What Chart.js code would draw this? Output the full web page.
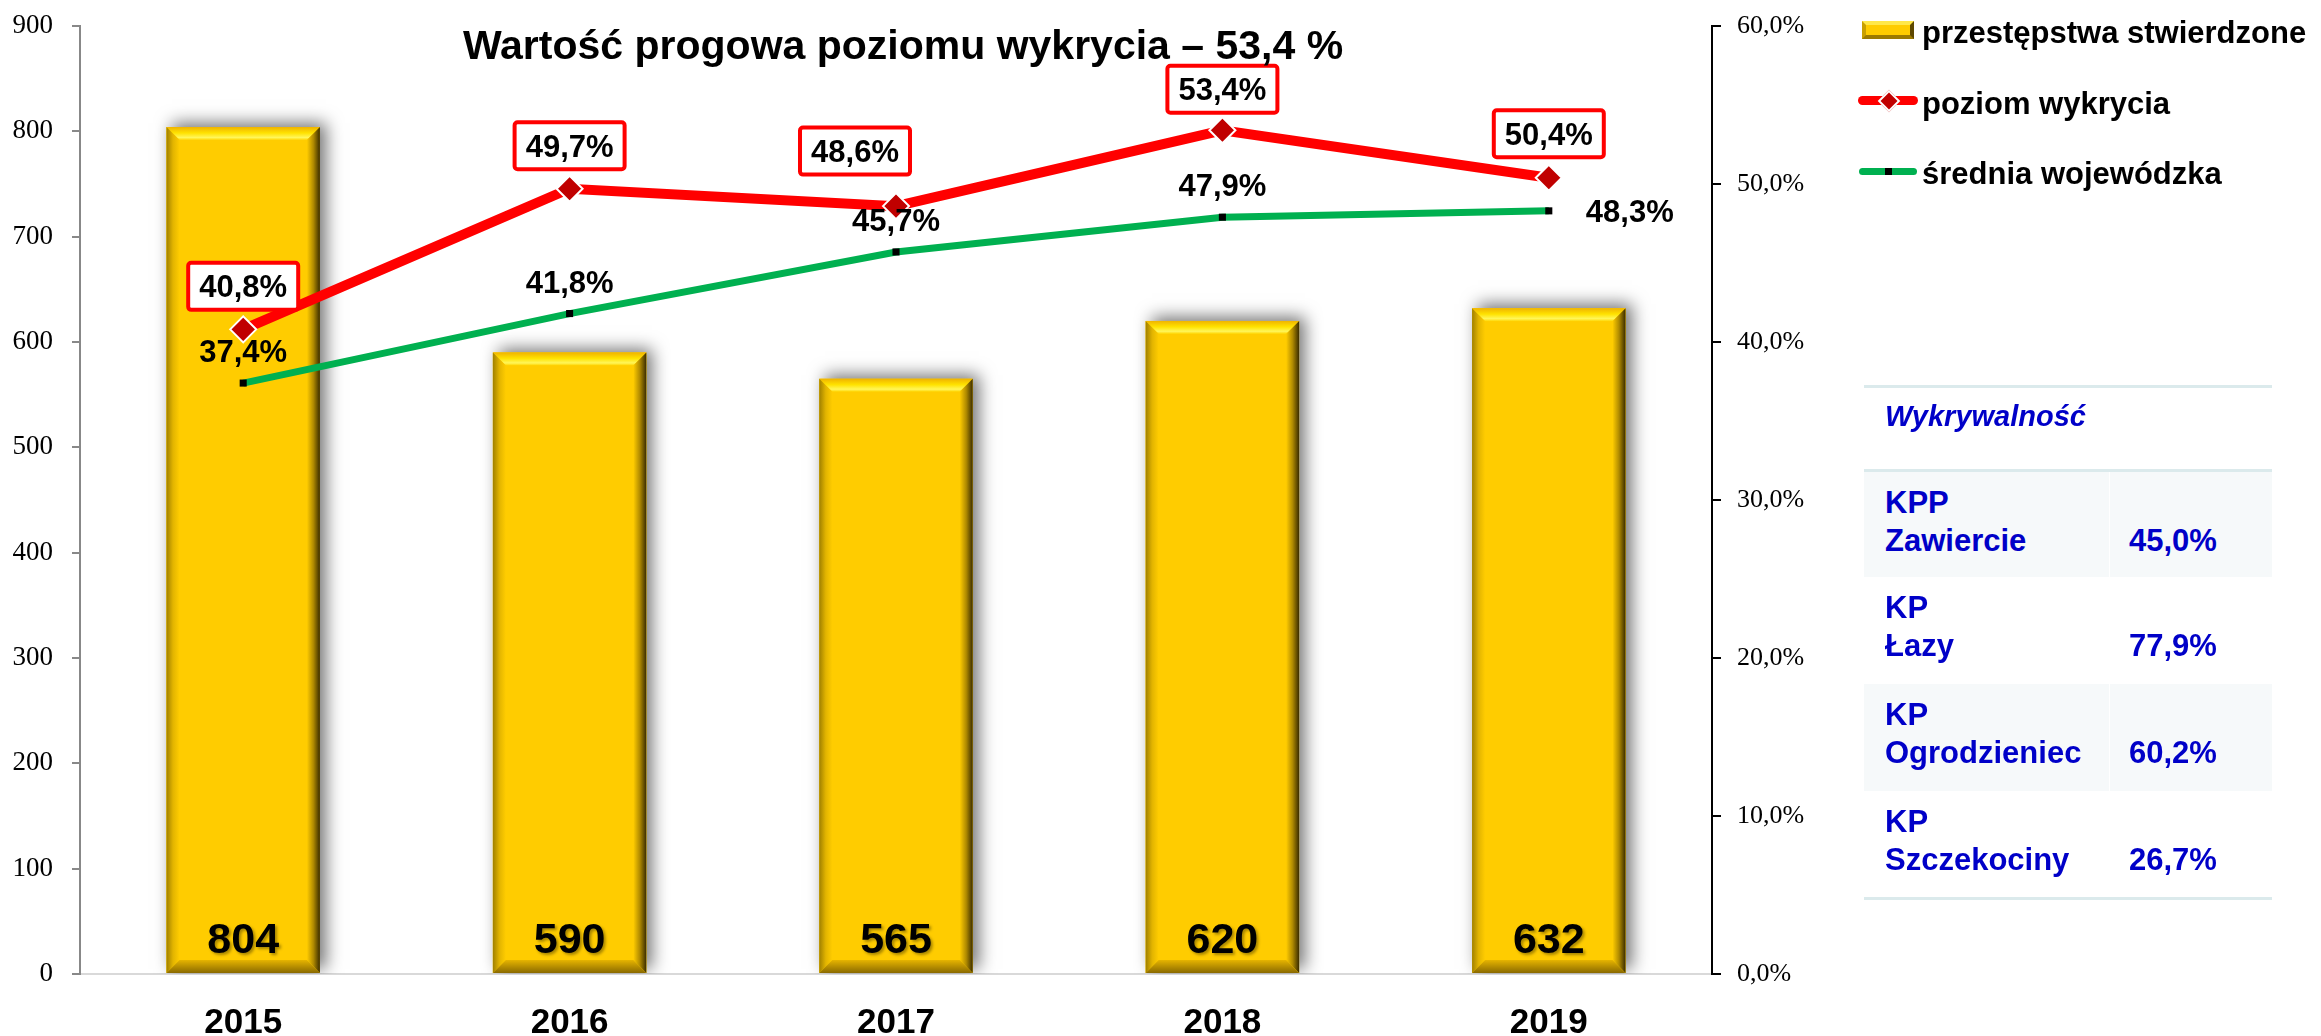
<!DOCTYPE html>
<html>
<head>
<meta charset="utf-8">
<script src="https://cdn.jsdelivr.net/npm/chart.js@4.4.1/dist/chart.umd.min.js"></script>
<style>
    body { margin: 0; background: #fff; overflow: hidden; font-family: "Liberation Sans", Arial, sans-serif; }
    #wrap { position: relative; width: 2321px; height: 1036px; }
    #chartBox { position: absolute; left: 0; top: 0; width: 2321px; height: 1036px; }
    .leg { position: absolute; left: 1922px; height: 40px; line-height: 40px; font-size: 31px; font-weight: bold; color: #000; white-space: nowrap; }
    .mk { position: absolute; }
    #table { position: absolute; left: 1864px; top: 385px; width: 408px; color: #0000c8; }
    .hline { position: absolute; left: 0; width: 408px; height: 3px; background: #dbeaec; }
    .row { position: absolute; left: 0; width: 408px; font-size: 31px; font-weight: bold; line-height: 38px; }
    .row .name { position: absolute; left: 21px; top: 12px; }
    .row .val { position: absolute; left: 265px; top: 50px; }
    .row.shade { background: #f6f9fa; }
    .row.shade .sep { position: absolute; left: 245px; top: 0; bottom: 0; width: 1px; background: #ffffff; }
    .head { position: absolute; left: 21px; top: 12px; font-size: 29px; font-weight: bold; font-style: italic; line-height: 38px; }
</style>
</head>
<body>
<div id="wrap">
    <div id="chartBox"><canvas id="myChart"></canvas></div>

    <div class="mk" style="left:1862px; top:21px; width:44px; height:10px; box-sizing:content-box; background:#ffcc00;
        border-top:4px solid #ffe84a; border-left:4px solid #c9a000; border-right:4px solid #5e4800; border-bottom:4px solid #9c7a00;"></div>
    <div class="leg" style="top:13px;">przestępstwa stwierdzone</div>

    <div class="mk" style="left:1858px; top:96px; width:60px; height:9px; border-radius:5px; background:#ff0000;"></div>
    <div class="mk" style="left:1881px; top:93px; width:12px; height:12px; background:#c00000; border:2px solid #fff; transform:rotate(45deg);"></div>
    <div class="leg" style="top:84px;">poziom wykrycia</div>

    <div class="mk" style="left:1859px; top:168px; width:58px; height:7px; border-radius:4px; background:#00b050;"></div>
    <div class="mk" style="left:1885px; top:168px; width:7px; height:7px; background:#000;"></div>
    <div class="leg" style="top:154px;">średnia wojewódzka</div>

    <div id="table"></div>
</div>

<script>
const YEARS = ["2015", "2016", "2017", "2018", "2019"];
const CRIMES = [804, 590, 565, 620, 632];
const DETECTION = [40.8, 49.7, 48.6, 53.4, 50.4];
const PROVINCE_AVG = [37.4, 41.8, 45.7, 47.9, 48.3];

const LEFT_TICKS = { min: 0, max: 900, step: 100 };
const RIGHT_TICKS = { min: 0, max: 60, step: 10 };

const TITLE = "Wartość progowa poziomu wykrycia – 53,4 %";

const TABLE_HEAD = "Wykrywalność";
const UNIT_TYPES = ["KPP", "KP", "KP", "KP"];
const UNIT_NAMES = ["Zawiercie", "Łazy", "Ogrodzieniec", "Szczekociny"];
const UNIT_RATES = [45.0, 77.9, 60.2, 26.7];

function pct(v) {
    return v.toFixed(1).replace(".", ",") + "%";
}

// build the small table on the right
(function buildTable() {
    const t = document.getElementById("table");
    let html = '<div class="hline" style="top:0"></div>';
    html += '<div class="head">' + TABLE_HEAD + '</div>';
    html += '<div class="hline" style="top:84px"></div>';
    const rowTops = [87, 192, 299, 406];
    const rowH = [105, 107, 107, 105];
    UNIT_NAMES.forEach((name, i) => {
        html += '<div class="row' + (i % 2 === 0 ? ' shade' : '') + '" style="top:' + rowTops[i] + 'px;height:' + rowH[i] + 'px">' +
            '<div class="sep"></div>' +
            '<div class="name">' + UNIT_TYPES[i] + '<br>' + name + '</div>' +
            '<div class="val">' + pct(UNIT_RATES[i]) + '</div></div>';
    });
    html += '<div class="hline" style="top:512px"></div>';
    t.innerHTML = html;
})();

const FONT = '"Liberation Sans", Arial, sans-serif';
const SERIF = '"Liberation Serif", "Times New Roman", serif';

// where each percentage label sits relative to its point
const RED_LABEL_SHIFT = [[0, -43], [0, -43], [-41, -55], [0, -41], [0, -44]];
const GREEN_LABEL_SHIFT = [[0, -32], [0, -32], [0, -32], [0, -32], [81, 0]];

// gold bars with bevel and soft shadow
const bevelPlugin = {
    id: "bevel",
    beforeDatasetDraw(chart, args) {
        if (args.index !== 0) return;
        const ctx = chart.ctx;
        const area = chart.chartArea;
        ctx.save();
        ctx.beginPath();
        ctx.rect(area.left, area.top - 60, area.right - area.left, area.bottom - area.top + 60);
        ctx.clip();
        args.meta.data.forEach((bar) => {
            const p = bar.getProps(["x", "y", "base", "width"], true);
            ctx.shadowColor = "rgba(0,0,0,0.55)";
            ctx.shadowBlur = 16;
            ctx.shadowOffsetX = 6;
            ctx.shadowOffsetY = -4;
            ctx.fillStyle = "#ffcc00";
            ctx.fillRect(p.x - p.width / 2, p.y, p.width, p.base - p.y);
        });
        ctx.restore();
    },
    afterDatasetDraw(chart, args) {
        if (args.index !== 0) return;
        const ctx = chart.ctx;
        const b = 13;
        ctx.save();
        args.meta.data.forEach((bar) => {
            const p = bar.getProps(["x", "y", "base", "width"], true);
            const L = p.x - p.width / 2, R = p.x + p.width / 2, T = p.y, B = p.base;
            let g;

            g = ctx.createLinearGradient(0, T, 0, T + b);
            g.addColorStop(0, "#f0b400");
            g.addColorStop(0.45, "#ffe200");
            g.addColorStop(0.8, "#fff65a");
            g.addColorStop(1, "#ffd400");
            ctx.fillStyle = g;
            ctx.beginPath();
            ctx.moveTo(L, T); ctx.lineTo(R, T); ctx.lineTo(R - b, T + b); ctx.lineTo(L + b, T + b);
            ctx.closePath(); ctx.fill();

            g = ctx.createLinearGradient(L, 0, L + b, 0);
            g.addColorStop(0, "#a08000");
            g.addColorStop(0.5, "#e2b400");
            g.addColorStop(1, "#ffcc00");
            ctx.fillStyle = g;
            ctx.beginPath();
            ctx.moveTo(L, T); ctx.lineTo(L + b, T + b); ctx.lineTo(L + b, B - b); ctx.lineTo(L, B);
            ctx.closePath(); ctx.fill();

            g = ctx.createLinearGradient(R - b, 0, R, 0);
            g.addColorStop(0, "#ffcc00");
            g.addColorStop(0.5, "#b08a00");
            g.addColorStop(1, "#3a2c00");
            ctx.fillStyle = g;
            ctx.beginPath();
            ctx.moveTo(R, T); ctx.lineTo(R, B); ctx.lineTo(R - b, B - b); ctx.lineTo(R - b, T + b);
            ctx.closePath(); ctx.fill();

            g = ctx.createLinearGradient(0, B - b, 0, B);
            g.addColorStop(0, "#e6b400");
            g.addColorStop(1, "#8a6a00");
            ctx.fillStyle = g;
            ctx.beginPath();
            ctx.moveTo(L, B); ctx.lineTo(R, B); ctx.lineTo(R - b, B - b); ctx.lineTo(L + b, B - b);
            ctx.closePath(); ctx.fill();
        });
        ctx.restore();
    }
};

function roundRect(ctx, x, y, w, h, r) {
    ctx.beginPath();
    ctx.moveTo(x + r, y);
    ctx.arcTo(x + w, y, x + w, y + h, r);
    ctx.arcTo(x + w, y + h, x, y + h, r);
    ctx.arcTo(x, y + h, x, y, r);
    ctx.arcTo(x, y, x + w, y, r);
    ctx.closePath();
}

const labelPlugin = {
    id: "valueLabels",
    afterDatasetsDraw(chart) {
        const ctx = chart.ctx;
        const area = chart.chartArea;
        ctx.save();
        ctx.textAlign = "center";
        ctx.textBaseline = "alphabetic";

        // bar values at the bottom of the bars
        ctx.font = "bold 43px " + FONT;
        ctx.shadowColor = "rgba(0,0,0,0.35)";
        ctx.shadowBlur = 3;
        ctx.shadowOffsetX = 2;
        ctx.shadowOffsetY = 2;
        ctx.fillStyle = "#000";
        chart.getDatasetMeta(0).data.forEach((bar, i) => {
            ctx.fillText(String(CRIMES[i]), bar.x, area.bottom - 21);
        });
        ctx.shadowColor = "transparent";

        ctx.font = "bold 31px " + FONT;

        // province average labels
        chart.getDatasetMeta(2).data.forEach((pt, i) => {
            const s = GREEN_LABEL_SHIFT[i];
            ctx.fillStyle = "#000";
            ctx.fillText(pct(PROVINCE_AVG[i]), pt.x + s[0], pt.y + s[1] + 11);
        });

        // detection labels in red boxes
        chart.getDatasetMeta(1).data.forEach((pt, i) => {
            const s = RED_LABEL_SHIFT[i];
            const cx = pt.x + s[0], cy = pt.y + s[1];
            const w = 110, h = 47;
            roundRect(ctx, cx - w / 2, cy - h / 2, w, h, 3);
            ctx.fillStyle = "#fff";
            ctx.fill();
            ctx.lineWidth = 4;
            ctx.strokeStyle = "#ff0000";
            ctx.stroke();
            ctx.fillStyle = "#000";
            ctx.fillText(pct(DETECTION[i]), cx, cy + 11);
        });

        // title
        ctx.font = "bold 41px " + FONT;
        ctx.fillText(TITLE, 903, 59);
        ctx.restore();
    }
};

// keep the plot area exactly where the reference has it
function fixVertical(width) {
    return (s) => {
        s.width = width;
        s.paddingTop = 0;
        s.paddingBottom = 0;
    };
}

const data1 = {
    labels: YEARS,
    datasets: [
        {
            type: "bar",
            label: "przestępstwa stwierdzone",
            data: CRIMES,
            yAxisID: "y",
            backgroundColor: "#ffcc00",
            borderWidth: 0,
            barPercentage: 0.47,
            categoryPercentage: 1,
            order: 2,
        },
        {
            type: "line",
            label: "poziom wykrycia",
            data: DETECTION,
            yAxisID: "y1",
            borderColor: "#ff0000",
            borderWidth: 10,
            pointStyle: "rectRot",
            pointRadius: 13,
            pointBackgroundColor: "#c00000",
            pointBorderColor: "#ffffff",
            pointBorderWidth: 2,
            tension: 0,
            order: 0,
        },
        {
            type: "line",
            label: "średnia wojewódzka",
            data: PROVINCE_AVG,
            yAxisID: "y1",
            borderColor: "#00b050",
            borderWidth: 7,
            pointStyle: "rect",
            pointRadius: 5,
            pointBackgroundColor: "#000000",
            pointBorderWidth: 0,
            tension: 0,
            order: 1,
        },
    ],
};

const config1 = {
    data: data1,
    options: {
        responsive: true,
        maintainAspectRatio: false,
        animation: false,
        layout: { padding: { left: 0, top: 26, right: 499, bottom: 0 } },
        plugins: {
            legend: { display: false },
            tooltip: { enabled: false },
        },
        scales: {
            x: {
                grid: { display: false },
                border: { color: "#d9d9d9", width: 2 },
                ticks: { color: "#000", font: { family: FONT, size: 35, weight: "bold" }, padding: 20 },
                afterFit: (s) => { s.height = 62; },
            },
            y: {
                position: "left",
                min: LEFT_TICKS.min,
                max: LEFT_TICKS.max,
                ticks: { stepSize: LEFT_TICKS.step, color: "#000", font: { family: SERIF, size: 27 }, padding: 19 },
                grid: { drawOnChartArea: false, color: "#888", tickLength: 8, lineWidth: 2 },
                border: { color: "#888", width: 2 },
                afterFit: fixVertical(80),
            },
            y1: {
                position: "right",
                min: RIGHT_TICKS.min,
                max: RIGHT_TICKS.max,
                ticks: { stepSize: RIGHT_TICKS.step, color: "#000", font: { family: SERIF, size: 26 }, padding: 16, callback: (v) => pct(v) },
                grid: { drawOnChartArea: false, color: "#000", tickLength: 9, lineWidth: 2 },
                border: { color: "#000", width: 2 },
                afterFit: fixVertical(110),
            },
        },
    },
    plugins: [bevelPlugin, labelPlugin],
};

var ctx = document.getElementById("myChart").getContext("2d");
var myChart = new Chart(ctx, config1);
</script>
</body>
</html>
